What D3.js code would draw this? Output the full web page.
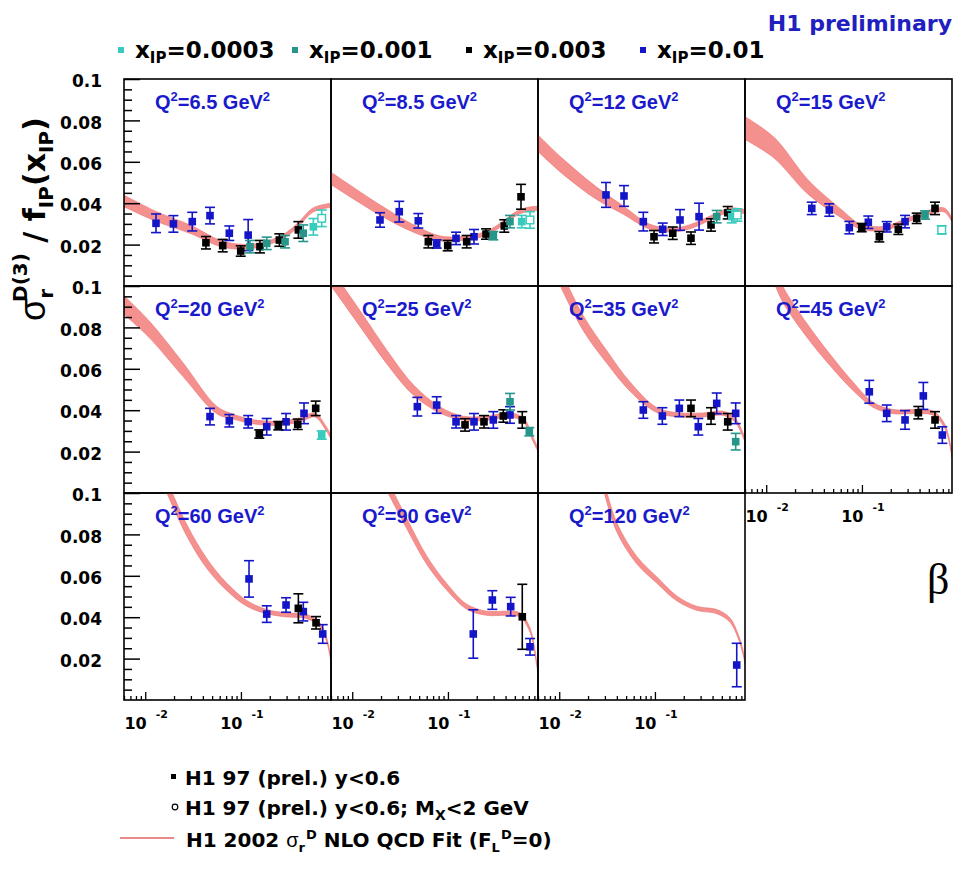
<!DOCTYPE html>
<html><head><meta charset="utf-8">
<script src="https://cdn.jsdelivr.net/npm/d3@7"></script>
<style>body{margin:0;background:#fff}</style>
</head><body>
<svg id="chart" width="955" height="876"></svg>
<script>
// Q^2 bins, one panel each (4 columns, 3 rows)
const q2Values = ["6.5", "8.5", "12", "15", "20", "25", "35", "45", "60", "90", "120"];

// Points: [panel, beta, sigma_r/f_IP, total error]
const xip01 = [
  [0,0.01296,0.0303,0.0045],[0,0.0197,0.030,0.004],[0,0.031,0.0311,0.0045],[0,0.0475,0.034,0.004],[0,0.0756,0.0255,0.0035],[0,0.119,0.0246,0.0075],
  [1,0.0195,0.0319,0.0035],[1,0.031,0.0359,0.005],[1,0.049,0.0315,0.0035],[1,0.0763,0.0203,0.002],[1,0.1215,0.023,0.003],[1,0.1872,0.0238,0.0035],
  [2,0.0308,0.044,0.006],[2,0.0475,0.0435,0.005],[2,0.0756,0.0311,0.0045],[2,0.1206,0.0274,0.003],[2,0.1828,0.0319,0.005],[2,0.289,0.0335,0.0065],
  [3,0.0299,0.0375,0.003],[3,0.0456,0.0367,0.003],[3,0.0738,0.0282,0.003],[3,0.1166,0.0308,0.003],[3,0.1815,0.0286,0.0025],[3,0.282,0.0311,0.003],
  [4,0.0475,0.0369,0.004],[4,0.0756,0.0349,0.003],[4,0.119,0.0344,0.003],[4,0.186,0.032,0.004],[4,0.296,0.0344,0.004],[4,0.456,0.0385,0.005],
  [5,0.0479,0.0417,0.0045],[5,0.0763,0.0425,0.004],[5,0.1215,0.0344,0.003],[5,0.1872,0.0344,0.004],[5,0.298,0.0353,0.004],[5,0.445,0.0377,0.004],
  [6,0.0756,0.0401,0.004],[6,0.1195,0.0372,0.004],[6,0.1798,0.0409,0.004],[6,0.284,0.032,0.004],[6,0.442,0.0433,0.005],[6,0.698,0.0385,0.005],
  [7,0.1194,0.0489,0.0055],[7,0.1815,0.0385,0.004],[7,0.282,0.0353,0.0045],[7,0.438,0.0469,0.0065],[7,0.692,0.028,0.004],
  [8,0.1215,0.0585,0.0088],[8,0.186,0.0415,0.004],[8,0.296,0.0459,0.0035],[8,0.4485,0.0427,0.0045],[8,0.7155,0.0319,0.0045],
  [9,0.184,0.0319,0.0117],[9,0.291,0.0483,0.0045],[9,0.4527,0.0451,0.0045],[9,0.72,0.0257,0.004],
  [10,0.7155,0.0169,0.0105]
];
const xip003 = [
  [0,0.0431,0.0209,0.003],[0,0.0645,0.0195,0.003],[0,0.0995,0.0169,0.0025],[0,0.158,0.019,0.003],[0,0.252,0.0222,0.003],[0,0.398,0.0271,0.004],
  [1,0.0624,0.0214,0.003],[1,0.0995,0.0195,0.0025],[1,0.157,0.0214,0.003],[1,0.25,0.0251,0.0025],[1,0.388,0.029,0.003],[1,0.58,0.0431,0.006],
  [2,0.0978,0.0238,0.003],[2,0.1534,0.0255,0.003],[2,0.238,0.0231,0.003],[2,0.3855,0.0295,0.003],[2,0.576,0.0354,0.003],
  [3,0.0995,0.0282,0.002],[3,0.152,0.0238,0.0025],[3,0.24,0.0274,0.0025],[3,0.3736,0.0327,0.0025],[3,0.58,0.0375,0.003],
  [4,0.1556,0.0285,0.002],[4,0.2458,0.0325,0.002],[4,0.392,0.0332,0.0025],[4,0.604,0.0409,0.0035],
  [5,0.1508,0.0329,0.003],[5,0.238,0.0344,0.003],[5,0.379,0.0372,0.003],[5,0.598,0.0353,0.004],
  [6,0.238,0.0409,0.004],[6,0.3855,0.0372,0.004],[6,0.576,0.0344,0.004],
  [7,0.3884,0.0388,0.003],[7,0.58,0.0353,0.004],
  [8,0.398,0.0443,0.007],[8,0.609,0.0373,0.003],
  [9,0.598,0.0402,0.0157]
];
const xip001 = [
  [0,0.1244,0.019,0.003],[0,0.186,0.0206,0.003],[0,0.289,0.0214,0.003],[0,0.448,0.0255,0.004],
  [1,0.298,0.0243,0.002],[1,0.445,0.0311,0.003],
  [2,0.442,0.0335,0.003],
  [3,0.456,0.0343,0.002],
  [5,0.445,0.0441,0.004],[5,0.708,0.0296,0.002],
  [6,0.698,0.0248,0.004]
];
const xip0003 = [
  [0,0.571,0.0286,0.004],
  [1,0.59,0.0311,0.003],
  [2,0.634,0.0335,0.003],
  [4,0.698,0.028,0.002]
];
// M_X < 2 GeV points (open markers)
const xip0003LowMx = [
  [0,0.698,0.0327,0.004],
  [1,0.72,0.0319,0.004],
  [2,0.726,0.0343,0.003],
  [3,0.682,0.0271,0.002]
];

// NLO QCD fit band per panel: [beta, central value, half width]
const fitBand = [
  [[0.006,0.0411,0.0028],[0.0132,0.0335,0.0024],[0.0306,0.0271,0.002],[0.0604,0.0206,0.0015],[0.0978,0.019,0.0012],[0.158,0.0198,0.001],[0.275,0.0238,0.001],[0.395,0.0295,0.001],[0.566,0.0367,0.001],[0.873,0.039,0.001]],
  [[0.006,0.052,0.003],[0.0195,0.0367,0.0025],[0.0431,0.0279,0.0018],[0.0826,0.023,0.0012],[0.1436,0.023,0.001],[0.254,0.0255,0.001],[0.376,0.0303,0.001],[0.522,0.0351,0.001],[0.68,0.037,0.001],[0.873,0.0375,0.001]],
  [[0.006,0.069,0.004],[0.011,0.0576,0.0037],[0.0246,0.0448,0.003],[0.0467,0.0367,0.002],[0.0888,0.0286,0.0012],[0.1556,0.0271,0.001],[0.232,0.0286,0.001],[0.407,0.0335,0.001],[0.608,0.0367,0.001],[0.873,0.0359,0.001]],
  [[0.006,0.0763,0.0055],[0.01215,0.0667,0.005],[0.0271,0.048,0.0035],[0.0604,0.0351,0.002],[0.0978,0.0286,0.0012],[0.1713,0.0279,0.001],[0.301,0.0319,0.001],[0.527,0.0359,0.001],[0.726,0.0367,0.001],[0.873,0.0319,0.001]],
  [[0.006,0.0908,0.0045],[0.0112,0.0787,0.004],[0.025,0.0594,0.0033],[0.0558,0.0401,0.0018],[0.0832,0.0369,0.0012],[0.1347,0.0344,0.001],[0.2364,0.0337,0.001],[0.4143,0.0353,0.001],[0.594,0.0377,0.001],[0.756,0.032,0.001],[0.873,0.027,0.001]],
  [[0.006,0.104,0.004],[0.00745,0.098,0.004],[0.01305,0.082,0.0038],[0.0229,0.0658,0.0033],[0.0435,0.0498,0.0025],[0.0826,0.0401,0.0015],[0.1447,0.0361,0.001],[0.2542,0.0361,0.001],[0.4453,0.0377,0.001],[0.613,0.0353,0.001],[0.78,0.0256,0.001],[0.873,0.021,0.001]],
  [[0.0105,0.103,0.004],[0.01785,0.082,0.0036],[0.0313,0.0658,0.003],[0.0549,0.0514,0.0022],[0.1043,0.0401,0.0012],[0.1828,0.0377,0.001],[0.32,0.0377,0.001],[0.518,0.0385,0.001],[0.687,0.0353,0.001],[0.873,0.0256,0.001]],
  [[0.0125,0.104,0.004],[0.0151,0.0955,0.0038],[0.0265,0.0787,0.0033],[0.0464,0.0643,0.0027],[0.0813,0.0514,0.002],[0.1316,0.0425,0.0012],[0.213,0.0393,0.001],[0.3445,0.0393,0.001],[0.557,0.0385,0.001],[0.738,0.032,0.001],[0.873,0.018,0.001]],
  [[0.0165,0.104,0.003],[0.0271,0.0821,0.0028],[0.0439,0.066,0.0024],[0.071,0.0547,0.0018],[0.115,0.0467,0.0014],[0.186,0.0427,0.001],[0.301,0.0411,0.001],[0.487,0.0403,0.001],[0.67,0.0362,0.001],[0.788,0.029,0.001],[0.873,0.0193,0.001]],
  [[0.023,0.104,0.0028],[0.0371,0.0853,0.0025],[0.06,0.0676,0.002],[0.0971,0.0547,0.0016],[0.157,0.0451,0.0012],[0.254,0.0419,0.001],[0.411,0.0419,0.001],[0.566,0.0411,0.001],[0.72,0.0338,0.001],[0.846,0.0177,0.001],[0.873,0.013,0.001]],
  [[0.029,0.104,0.0025],[0.0399,0.0835,0.0022],[0.0645,0.0676,0.0018],[0.1043,0.058,0.0015],[0.169,0.0491,0.0012],[0.273,0.0443,0.001],[0.442,0.0427,0.001],[0.609,0.0386,0.001],[0.743,0.0306,0.001],[0.838,0.0225,0.001],[0.873,0.018,0.001]]
];

const yTickLabels = [0.02, 0.04, 0.06, 0.08, 0.1];
const xTickLabels = [{v: 0.01, exp: "-2"}, {v: 0.1, exp: "-1"}];
const seriesLegend = ["0.0003", "0.001", "0.003", "0.01"];

const colors = {"0.0003": "#36cbbd", "0.001": "#26968a", "0.003": "#000000", "0.01": "#1515c8"};
const bold = "DejaVu Sans";

const svg = d3.select("#chart");
svg.append("rect").attr("width", 955).attr("height", 876).attr("fill", "#fff");

const PW = 207, PH = 207, X0 = 124, Y0 = 79;
const x = d3.scaleLog().domain([0.006, 0.873]).range([0, PW]);
const y = d3.scaleLinear().domain([0, 0.1]).range([PH, 0]);

svg.append("defs").append("clipPath").attr("id", "pclip")
  .append("rect").attr("x", 0).attr("y", 0).attr("width", PW).attr("height", PH);

const area = d3.area()
  .x(d => x(d[0]))
  .y0(d => y(d[1] - d[2]))
  .y1(d => y(d[1] + d[2]))
  .curve(d3.curveCatmullRom.alpha(0.5));

function drawPoints(g, data, color, open) {
  const sel = g.selectAll(null).data(data).enter().append("g")
    .attr("transform", d => `translate(${x(d[1])},${y(d[2])})`);
  sel.append("line").attr("x1", 0).attr("x2", 0)
    .attr("y1", d => y(d[2] + d[3]) - y(d[2]))
    .attr("y2", d => y(d[2] - d[3]) - y(d[2]))
    .attr("stroke", color).attr("stroke-width", 1.6);
  [1, -1].forEach(s => {
    sel.append("line").attr("x1", -5).attr("x2", 5)
      .attr("y1", d => y(d[2] + s * d[3]) - y(d[2]))
      .attr("y2", d => y(d[2] + s * d[3]) - y(d[2]))
      .attr("stroke", color).attr("stroke-width", 1.6);
  });
  sel.append("rect").attr("x", -3.8).attr("y", -3.8).attr("width", 7.6).attr("height", 7.6)
    .attr("fill", open ? "#fff" : color).attr("stroke", color).attr("stroke-width", open ? 1.4 : 0);
}

q2Values.forEach((q, i) => {
  const col = i % 4, row = Math.floor(i / 4);
  const g = svg.append("g").attr("transform", `translate(${X0 + col * PW},${Y0 + row * PH})`);
  const inner = g.append("g").attr("clip-path", "url(#pclip)");

  inner.append("path").datum(fitBand[i]).attr("d", area)
    .attr("fill", "#f27c7a").attr("fill-opacity", 0.85)
    .attr("stroke", "#ec7070").attr("stroke-width", 0.6);

  const pick = arr => arr.filter(d => d[0] === i);
  drawPoints(inner, pick(xip01), colors["0.01"], false);
  drawPoints(inner, pick(xip003), colors["0.003"], false);
  drawPoints(inner, pick(xip001), colors["0.001"], false);
  drawPoints(inner, pick(xip0003), colors["0.0003"], false);
  drawPoints(inner, pick(xip0003LowMx), colors["0.0003"], true);

  // Q^2 label
  const lab = g.append("text").attr("x", 31).attr("y", 30)
    .attr("font-family", "Liberation Sans").attr("font-weight", "bold")
    .attr("font-size", 20).attr("fill", "#1a1acc");
  lab.append("tspan").text("Q");
  lab.append("tspan").attr("font-size", 13).attr("dy", -8).text("2");
  lab.append("tspan").attr("dy", 8).text("=" + q + " GeV");
  lab.append("tspan").attr("font-size", 13).attr("dy", -8).text("2");

  // Y axis ticks on the left column
  if (col === 0) {
    const minor = d3.range(1, 20).map(k => k * 0.005).filter(v => Math.abs(v * 50 - Math.round(v * 50)) > 1e-6);
    g.append("g").call(d3.axisLeft(y).tickValues(minor).tickSize(-8).tickFormat(""))
      .call(a => a.select(".domain").remove())
      .selectAll("line").attr("stroke", "#000").attr("stroke-width", 1.5);
    const ax = g.append("g").call(d3.axisLeft(y).tickValues(yTickLabels).tickSize(-16).tickPadding(22)
        .tickFormat(d => d === 0.1 ? "0.1" : d3.format(".2f")(d)))
      .call(a => a.select(".domain").remove());
    ax.selectAll("line").attr("stroke", "#000").attr("stroke-width", 1.5);
    ax.selectAll("text").attr("font-family", bold).attr("font-weight", "bold")
      .attr("font-size", 17).attr("fill", "#000").attr("dy", "0.45em");
  }

  // X axis ticks on the bottom panels
  if (row === 2 || i === 7) {
    const minorX = [];
    [0.001, 0.01, 0.1].forEach(dec => { for (let k = 2; k <= 9; k++) { const v = k * dec; if (v >= 0.006 && v <= 0.873) minorX.push(v); } });
    g.append("g").attr("transform", `translate(0,${PH})`)
      .call(d3.axisBottom(x).tickValues(minorX).tickSize(-4).tickFormat(""))
      .call(a => a.select(".domain").remove())
      .selectAll("line").attr("stroke", "#000").attr("stroke-width", 1.3);
    g.append("g").attr("transform", `translate(0,${PH})`)
      .call(d3.axisBottom(x).tickValues(xTickLabels.map(d => d.v)).tickSize(-8).tickFormat(""))
      .call(a => a.select(".domain").remove())
      .selectAll("line").attr("stroke", "#000").attr("stroke-width", 1.3);
    xTickLabels.forEach(t => {
      const tx = g.append("text").attr("x", x(t.v) + 1).attr("y", PH + 29)
        .attr("text-anchor", "middle").attr("font-family", bold).attr("font-weight", "bold")
        .attr("font-size", 16).attr("fill", "#000");
      tx.append("tspan").text("10");
      tx.append("tspan").attr("dx", 9).attr("dy", -11).attr("font-size", 11).text(t.exp);
    });
  }

  g.append("rect").attr("width", PW).attr("height", PH)
    .attr("fill", "none").attr("stroke", "#000").attr("stroke-width", 1.6);
});

// Y axis title
const yt = svg.append("text").attr("transform", "translate(45,321) rotate(-90)")
  .attr("font-family", bold).attr("font-weight", "bold").attr("font-size", 30).attr("fill", "#000");
yt.append("tspan").attr("font-family", "Liberation Sans").attr("font-weight", "normal").attr("font-size", 36).text("σ");
yt.append("tspan").attr("font-size", 20).attr("dy", 8).text("r");
yt.append("tspan").attr("font-size", 20).attr("dx", -13).attr("dy", -26).text("D(3)");
yt.append("tspan").attr("dy", 18).text(" / f");
yt.append("tspan").attr("font-size", 20).attr("dy", 8).text("IP");
yt.append("tspan").attr("dy", -8).text("(x");
yt.append("tspan").attr("font-size", 20).attr("dy", 8).text("IP");
yt.append("tspan").attr("dy", -8).text(")");

// beta axis label
svg.append("text").attr("x", 927).attr("y", 594).attr("font-family", "Liberation Serif")
  .attr("font-size", 44).attr("fill", "#000").text("β");

// H1 preliminary
svg.append("text").attr("x", 952).attr("y", 31).attr("text-anchor", "end")
  .attr("font-family", bold).attr("font-weight", "bold").attr("font-size", 22)
  .attr("fill", "#2020c0").text("H1 preliminary");

// Top legend: x_IP values
seriesLegend.forEach((s, k) => {
  const mx = 121 + k * 174;
  svg.append("rect").attr("x", mx - 3).attr("y", 47).attr("width", 6).attr("height", 6).attr("fill", colors[s]);
  const t = svg.append("text").attr("x", mx + 14).attr("y", 58)
    .attr("font-family", bold).attr("font-weight", "bold").attr("font-size", 23).attr("fill", "#000");
  t.append("tspan").text("x");
  t.append("tspan").attr("font-size", 15).attr("dy", 5).text("IP");
  t.append("tspan").attr("dy", -5).text("=" + s);
});

// Bottom legend
const lg = svg.append("g").attr("font-family", bold).attr("font-weight", "bold").attr("font-size", 20).attr("fill", "#000");
lg.append("rect").attr("x", 171).attr("y", 774).attr("width", 5).attr("height", 5).attr("fill", "#000");
lg.append("text").attr("x", 185).attr("y", 785).text("H1 97 (prel.) y<0.6");
lg.append("circle").attr("cx", 175).attr("cy", 807).attr("r", 2.8).attr("fill", "none").attr("stroke", "#000").attr("stroke-width", 1.2);
const l2 = lg.append("text").attr("x", 185).attr("y", 815);
l2.append("tspan").text("H1 97 (prel.) y<0.6; M");
l2.append("tspan").attr("font-size", 14).attr("dy", 5).text("X");
l2.append("tspan").attr("dy", -5).text("<2 GeV");
lg.append("line").attr("x1", 120).attr("x2", 174).attr("y1", 838).attr("y2", 838)
  .attr("stroke", "#e06060").attr("stroke-width", 1.5);
const l3 = lg.append("text").attr("x", 186).attr("y", 847);
l3.append("tspan").text("H1 2002 ");
l3.append("tspan").attr("font-family", "Liberation Sans").attr("font-weight", "normal").text("σ");
l3.append("tspan").attr("font-size", 13).attr("dy", 5).text("r");
l3.append("tspan").attr("font-size", 13).attr("dx", 1).attr("dy", -13).text("D");
l3.append("tspan").attr("dy", 8).text(" NLO QCD Fit (F");
l3.append("tspan").attr("font-size", 13).attr("dy", 5).text("L");
l3.append("tspan").attr("font-size", 13).attr("dx", 1).attr("dy", -13).text("D");
l3.append("tspan").attr("dy", 8).text("=0)");
</script>
</body></html>
